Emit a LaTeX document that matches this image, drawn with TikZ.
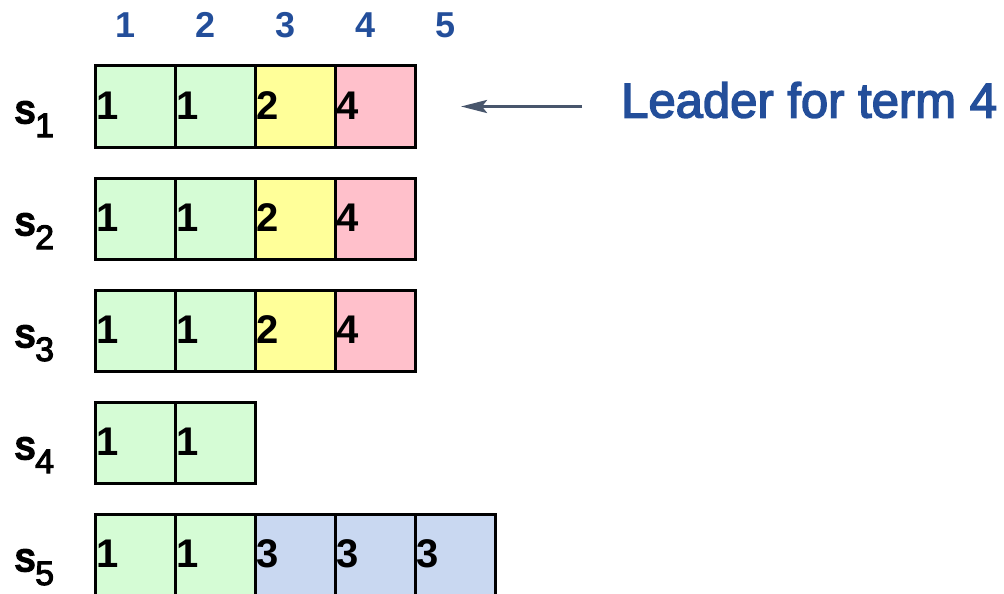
\documentclass[tikz,border=0pt]{standalone}
\usepackage{fontspec}
\setmainfont{Liberation Sans}
\newfontfamily\medfont[FakeBold=3]{Liberation Sans}
\newfontfamily\heavyfont[FakeBold=5]{Liberation Sans}
\usetikzlibrary{arrows.meta}
\definecolor{cgreen}{RGB}{213,252,213}
\definecolor{cyellow}{RGB}{255,255,153}
\definecolor{cpink}{RGB}{255,192,203}
\definecolor{cblue}{RGB}{201,216,241}
\definecolor{hblue}{RGB}{35,78,154}
\definecolor{arrowc}{RGB}{72,86,108}
\tikzset{
  cell/.style={draw=black, line width=3pt, minimum width=80pt, minimum height=81pt, inner sep=0pt, outer sep=0pt},
  num/.style={anchor=west, inner sep=0pt, font=\fontsize{40}{40}\selectfont\bfseries},
  hdr/.style={inner sep=0pt, text=hblue, font=\fontsize{36}{36}\selectfont\bfseries},
  rowlab/.style={anchor=base west, inner sep=0pt},
  leadertxt/.style={anchor=west, inner sep=0pt, text=hblue, font=\medfont\fontsize{49}{49}\selectfont},
  ptr/.style={draw=arrowc, line width=3.3pt, -{Stealth[length=26pt,width=13pt,inset=5pt]}}
}
\newcommand{\slab}[1]{{\heavyfont\fontsize{40}{40}\selectfont s}\raisebox{-14pt}{\medfont\fontsize{34}{34}\selectfont #1}}
\begin{document}
\begin{tikzpicture}[x=1pt,y=-1pt]
\useasboundingbox (0,0) rectangle (1004,594);
% column headers
\foreach \k in {1,...,5} {
  \node[hdr] (h\k) at ({126+80*(\k-1)},25) {\k};
}
\foreach \r/\cells in {1/{cgreen/1,cgreen/1,cyellow/2,cpink/4},
                        2/{cgreen/1,cgreen/1,cyellow/2,cpink/4},
                        3/{cgreen/1,cgreen/1,cyellow/2,cpink/4},
                        4/{cgreen/1,cgreen/1},
                        5/{cgreen/1,cgreen/1,cblue/3,cblue/3,cblue/3}} {
  \node[rowlab] (s\r) at (15,{123+112*(\r-1)}) {\slab{\r}};
  \foreach \col/\n [count=\k] in \cells {
    \node[cell, fill=\col] (c\r\k) at ({135+80*(\k-1)},{106.5+112*(\r-1)}) {};
    \node[num] (t\r\k) at ([xshift=1pt,yshift=1pt]c\r\k.west) {\n};
  }
}
\node[leadertxt] (leader) at (621,100) {Leader for term 4};
\draw[ptr] ([xshift=-39pt]leader.west |- c14.east) -- ([xshift=46pt]c14.east);
\end{tikzpicture}
\end{document}
